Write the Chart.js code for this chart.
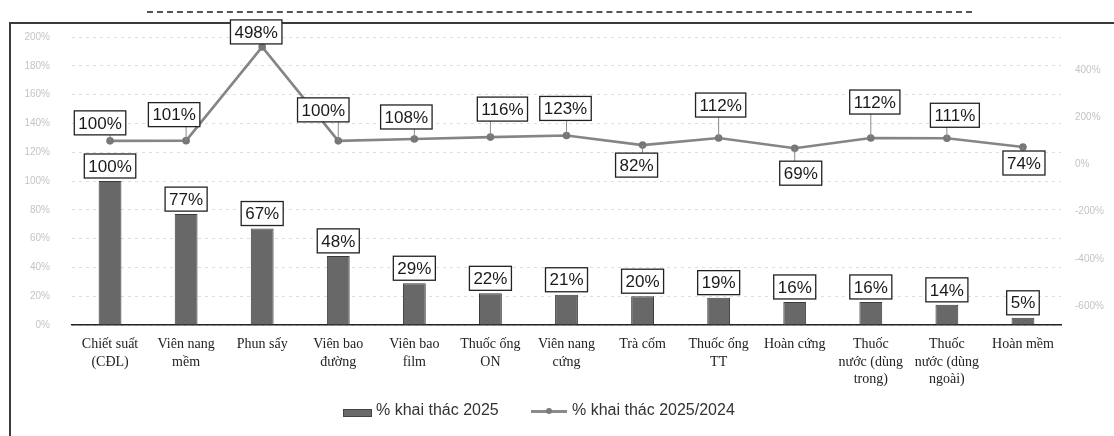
<!DOCTYPE html>
<html>
<head>
<meta charset="utf-8">
<script src="https://cdn.jsdelivr.net/npm/chart.js@4.4.1/dist/chart.umd.min.js"></script>
<style>
  html,body{margin:0;padding:0;background:#fff;}
  #wrap{position:relative;width:1114px;height:436px;overflow:hidden;background:#fff;}
  #c{position:absolute;left:0;top:0;}
  #frame{position:absolute;left:9px;top:22px;width:1120px;height:430px;border-left:2px solid #3a3a3a;border-top:2px solid #3a3a3a;}
  #uline{position:absolute;left:147px;top:11px;width:825px;border-top:2px dashed #555;}
  .lg{position:absolute;font:16px "Liberation Sans",Arial,sans-serif;color:#333;white-space:nowrap;}
</style>
</head>
<body>
<div id="wrap">
  <div id="uline"></div>
  <div id="frame"></div>
  <canvas id="c" width="1114" height="436"></canvas>
  <div class="lg" style="left:343px;top:409px;width:29px;height:8px;background:#6a6a6a;border:1px solid #444;box-sizing:border-box;"></div>
  <div class="lg" id="lg1" style="left:376px;top:401px;"></div>
  <div class="lg" style="left:531px;top:410px;width:36px;height:3px;background:#8a8a8a;"></div>
  <div class="lg" style="left:546px;top:408px;width:6px;height:6px;border-radius:3px;background:#7a7a7a;"></div>
  <div class="lg" id="lg2" style="left:572px;top:401px;"></div>
</div>
<script>
// ---- data ----
const categories = [
  ["Chiết suất","(CĐL)"],
  ["Viên nang","mềm"],
  ["Phun sấy"],
  ["Viên bao","đường"],
  ["Viên bao","film"],
  ["Thuốc ống","ON"],
  ["Viên nang","cứng"],
  ["Trà cốm"],
  ["Thuốc ống","TT"],
  ["Hoàn cứng"],
  ["Thuốc","nước (dùng","trong)"],
  ["Thuốc","nước (dùng","ngoài)"],
  ["Hoàn mềm"]
];
const barValues = [100, 77, 67, 48, 29, 22, 21, 20, 19, 16, 16, 14, 5];
const lineValues = [100, 101, 498, 100, 108, 116, 123, 82, 112, 69, 112, 111, 74];
const seriesNames = ["% khai thác 2025", "% khai thác 2025/2024"];
const rightTicks = [-600, -400, -200, 0, 200, 400];

// ---- label placement (style) ----
const lineLabelOffset = [
  [-10,-18],[-12,-26],[-6,-15],[-15,-31],[-8,-22],[12,-28],[-1,-27],
  [-6,20],[2,-33],[6,25],[4,-36],[8,-23],[1,16]
];

document.getElementById('lg1').textContent = seriesNames[0];
document.getElementById('lg2').textContent = seriesNames[1];

const LABEL_FONT = '17px "Liberation Sans", Arial, sans-serif';
function drawBox(ctx, cx, cy, text){
  const w = ctx.measureText(text).width + 8, h = 24;
  ctx.fillStyle = '#fff';
  ctx.fillRect(cx - w/2, cy - h/2, w, h);
  ctx.strokeStyle = '#222';
  ctx.lineWidth = 1.3;
  ctx.strokeRect(cx - w/2, cy - h/2, w, h);
  ctx.fillStyle = '#1a1a1a';
  ctx.fillText(text, cx, cy + 1);
  return {w, h};
}

const boxLabels = {
  id: 'boxLabels',
  afterDatasetsDraw(chart){
    const ctx = chart.ctx;
    ctx.save();
    ctx.font = LABEL_FONT;
    ctx.textAlign = 'center';
    ctx.textBaseline = 'middle';
    const bm = chart.getDatasetMeta(0);
    bm.data.forEach((el, i) => {
      drawBox(ctx, el.x, el.y - 3 - 12, barValues[i] + '%');
    });
    const lm = chart.getDatasetMeta(1);
    lm.data.forEach((el, i) => {
      const t = lineValues[i] + '%';
      const [dx, dy] = lineLabelOffset[i];
      const cx = el.x + dx, cy = el.y + dy;
      const w = ctx.measureText(t).width + 8, h = 24;
      const ey = dy < 0 ? cy + h/2 : cy - h/2;
      const ex = Math.min(Math.max(el.x, cx - w/2 + 4), cx + w/2 - 4);
      if (Math.abs(ey - el.y) > 3) {
        ctx.strokeStyle = '#8a8a8a';
        ctx.lineWidth = 1;
        ctx.beginPath();
        ctx.moveTo(el.x, el.y);
        ctx.lineTo(ex, ey);
        ctx.stroke();
      }
      drawBox(ctx, cx, cy, t);
    });
    ctx.restore();
  }
};

new Chart(document.getElementById('c'), {
  data: {
    labels: categories,
    datasets: [
      {
        type: 'bar',
        label: seriesNames[0],
        data: barValues,
        yAxisID: 'y',
        backgroundColor: '#686868',
        borderColor: '#3a3a3a',
        borderWidth: 1,
        barPercentage: 0.6,
        categoryPercentage: 0.5,
        order: 2
      },
      {
        type: 'line',
        label: seriesNames[1],
        data: lineValues,
        yAxisID: 'y2',
        borderColor: '#858585',
        borderWidth: 2.6,
        pointRadius: 2.5,
        pointBackgroundColor: '#777',
        pointBorderColor: '#777',
        tension: 0,
        order: 1
      }
    ]
  },
  options: {
    responsive: false,
    animation: false,
    devicePixelRatio: 1,
    layout: { padding: { left: 0, right: 0, top: 37, bottom: 0 } },
    plugins: { legend: { display: false }, tooltip: { enabled: false } },
    scales: {
      x: {
        offset: true,
        grid: { display: false, drawTicks: false },
        border: { display: true, color: '#222', width: 1.6 },
        ticks: {
          autoSkip: false, maxRotation: 0, padding: 11,
          color: '#222',
          font: { family: '"Liberation Serif", "Times New Roman", serif', size: 14, lineHeight: 1.25 }
        },
        afterFit(s){ s.height = 111; }
      },
      y: {
        position: 'left',
        min: 0, max: 200,
        ticks: { stepSize: 20, padding: 22, color: '#c4c4c4', font: { size: 10 }, callback: v => v + '%' },
        grid: { color: 'rgba(0,0,0,0.13)', drawTicks: false },
        border: { display: false, dash: [3, 4] },
        afterFit(s){ s.width = 72; }
      },
      y2: {
        position: 'right',
        min: -680, max: 540,
        afterBuildTicks(s){ s.ticks = rightTicks.map(v => ({ value: v })); },
        ticks: { padding: 14, color: '#c4c4c4', font: { size: 10 }, callback: v => v + '%' },
        grid: { display: false, drawTicks: false },
        border: { display: false },
        afterFit(s){ s.width = 53; }
      }
    }
  },
  plugins: [boxLabels]
});
</script>
</body>
</html>
